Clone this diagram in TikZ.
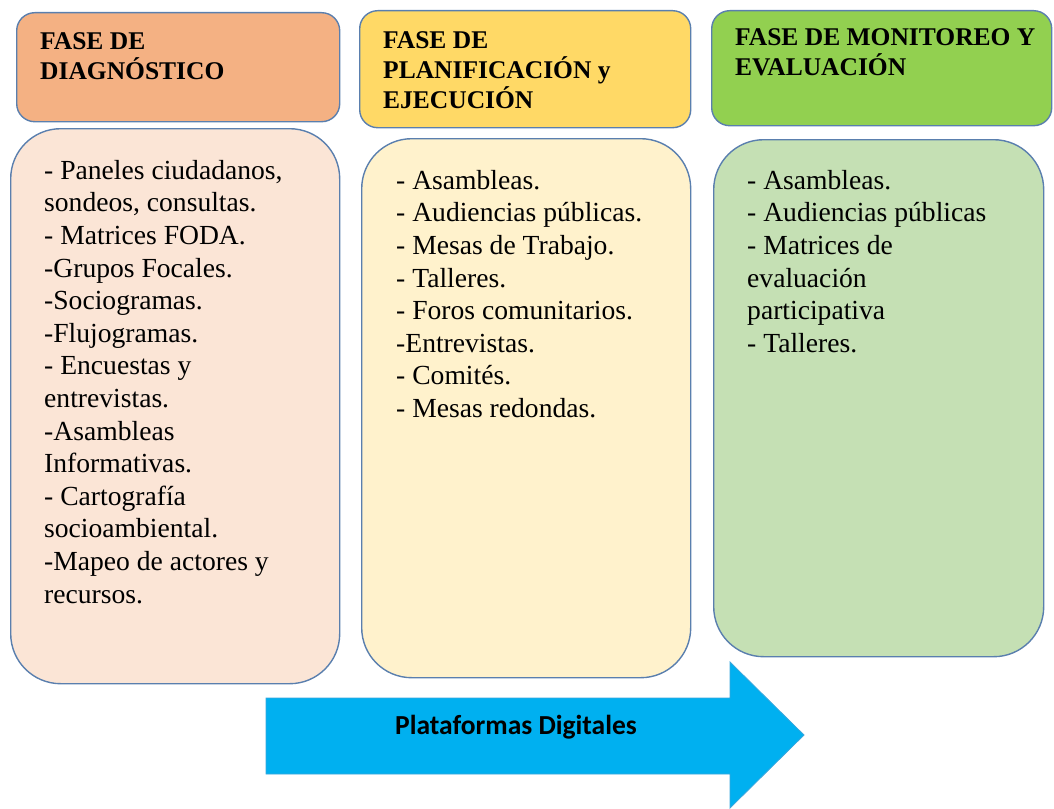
\documentclass[tikz,border=0pt]{standalone}
\usepackage{fontspec}
\setmainfont{Liberation Serif}
\newfontfamily\calibrifont{Carlito}
\definecolor{hdrA}{HTML}{F4B183}
\definecolor{bodA}{HTML}{FBE5D6}
\definecolor{hdrB}{HTML}{FFD966}
\definecolor{bodB}{HTML}{FFF2CC}
\definecolor{hdrC}{HTML}{92D050}
\definecolor{bodC}{HTML}{C5E0B4}
\definecolor{edge}{HTML}{5A7FAE}
\definecolor{arrowfill}{HTML}{00B0F0}
\definecolor{arrowedge}{HTML}{3AA6DC}
\tikzset{
  hdrbox/.style={draw=edge, line width=1.4pt, rounded corners=18pt, anchor=north west, inner sep=0pt},
  bodbox/.style={draw=edge, line width=1.4pt, rounded corners=50pt, anchor=north west, inner sep=0pt},
  hdrtext/.style={anchor=north west, inner sep=0pt, align=left, font=\fontsize{25.5}{30}\selectfont\bfseries},
  bodtext/.style={anchor=north west, inner sep=0pt, align=left, font=\fontsize{27.6}{32.6}\selectfont},
}
\begin{document}
\begin{tikzpicture}[x=1pt,y=-1pt]
\useasboundingbox (0,0) rectangle (1054,808);
% headers
\node[hdrbox, fill=hdrA, minimum width=323pt, minimum height=109pt] (h1) at (16,12) {};
\node[hdrbox, fill=hdrB, minimum width=331pt, minimum height=117pt] (h2) at (359,10) {};
\node[hdrbox, fill=hdrC, minimum width=340pt, minimum height=115pt] (h3) at (711,10) {};
% bodies
\node[bodbox, fill=bodA, minimum width=329pt, minimum height=555pt] (b1) at (10,128) {};
\node[bodbox, fill=bodB, minimum width=329pt, minimum height=539pt] (b2) at (361,138) {};
\node[bodbox, fill=bodC, minimum width=330pt, minimum height=517pt] (b3) at (713,139) {};
% header texts
\node[hdrtext] (t1) at (40,32) {FASE DE\\DIAGNÓSTICO};
\node[hdrtext] (t2) at (383,31) {FASE DE\\PLANIFICACIÓN y\\EJECUCIÓN};
\node[hdrtext] (t3) at (735,28) {FASE DE MONITOREO Y\\EVALUACIÓN};
% body texts
\node[bodtext] (l1) at (44,160) {- Paneles ciudadanos,\\sondeos, consultas.\\- Matrices FODA.\\-Grupos Focales.\\-Sociogramas.\\-Flujogramas.\\- Encuestas y\\entrevistas.\\-Asambleas\\Informativas.\\- Cartografía\\socioambiental.\\-Mapeo de actores y\\recursos.};
\node[bodtext] (l2) at (396,170) {- Asambleas.\\- Audiencias públicas.\\- Mesas de Trabajo.\\- Talleres.\\- Foros comunitarios.\\-Entrevistas.\\- Comités.\\- Mesas redondas.};
\node[bodtext] (l3) at (747,170) {- Asambleas.\\- Audiencias públicas\\- Matrices de\\evaluación\\participativa\\- Talleres.};
% arrow
\coordinate (aL1) at (266,698);
\coordinate (aL2) at (266,774);
\coordinate (aTip) at (804,735);
\draw[fill=arrowfill, draw=arrowedge, line width=0.8pt]
  (aL1) -- (730,698) -- (730,662) -- (aTip) -- (730,808) -- (730,774) -- (aL2) -- cycle;
\node[font=\calibrifont\bfseries\fontsize{27.5}{32}\selectfont, inner sep=0pt] (pd) at (516,727) {Plataformas Digitales};
\end{tikzpicture}
\end{document}
